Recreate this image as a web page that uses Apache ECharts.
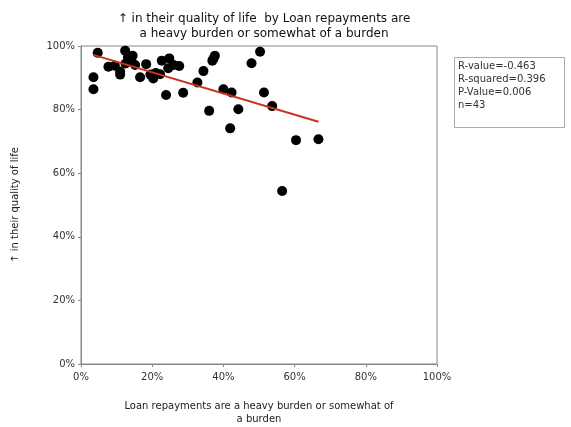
<!DOCTYPE html>
<html><head><meta charset="utf-8">
<script src="https://cdn.jsdelivr.net/npm/echarts@6/dist/echarts.min.js"></script>
<style>html,body{margin:0;padding:0;background:#fff}#c{width:571px;height:427px}</style>
</head><body><div id="c"></div>
<script>
var xVals = [4.7,3.5,3.5,7.7,11,11,12.4,14.5,13.8,18.3,16.6,20.3,22.7,24.8,24.5,27.6,23.9,28.7,22.2,32.7,34.4,36.9,37.6,36,40,42.3,44.2,41.9,47.9,50.3,51.4,53.7,60.4,66.7,56.5,12.5,15.2,19.5,21.0,26.0,37.2,13.2,9.5];
var yVals = [97.9,90.2,86.4,93.5,92,91,98.5,96.9,95.4,94.3,90.2,89.8,95.4,96.1,93,93.7,84.6,85.3,91.1,88.5,92.1,95.4,96.9,79.6,86.4,85.4,80.1,74.1,94.6,98.2,85.4,81.1,70.4,70.7,54.4,94.5,94.0,91.0,91.5,94.0,96.0,96.5,93.8];
var trendX = [3.5, 66.7];
var trendY = [97.2, 76.2];
var xTicks = [0,20,40,60,80,100];
var yTicks = [0,20,40,60,80,100];
var statsLines = ["R-value=-0.463","R-squared=0.396","P-Value=0.006","n=43"];
var titleText = "\u2191 in their quality of life  by Loan repayments are\na heavy burden or somewhat of a burden";
var xName = "Loan repayments are a heavy burden or somewhat of\na burden";
var yName = "\u2191 in their quality of life";

var pts = xVals.map(function(x,i){return [x,yVals[i]];});
var chart = echarts.init(document.getElementById('c'));
var font = 'DejaVu Sans';
chart.setOption({
  animation:false,
  title:{text:titleText,left:259,top:6,textAlign:'center',textStyle:{fontFamily:font,fontSize:12,fontWeight:'normal',color:'#111',lineHeight:15}},
  grid:{left:81,right:134,top:46,bottom:63,show:true,borderColor:'#888',borderWidth:1,outerBoundsMode:'none',containLabel:false},
  xAxis:{type:'value',min:0,max:100,interval:20,
    name:xName,nameLocation:'middle',nameGap:36,nameTextStyle:{fontFamily:font,fontSize:10,color:'#222',lineHeight:13},
    axisLine:{show:true,lineStyle:{color:'#888'}},axisTick:{show:true,length:3,lineStyle:{color:'#888'}},
    splitLine:{show:false},
    axisLabel:{fontFamily:font,fontSize:10,color:'#333',margin:8,formatter:function(v){return v+'%';}}},
  yAxis:{type:'value',min:0,max:100,interval:20,
    name:yName,nameLocation:'middle',nameGap:61,nameTextStyle:{fontFamily:font,fontSize:10,color:'#222'},
    axisLine:{show:true,lineStyle:{color:'#888'}},axisTick:{show:true,length:3,lineStyle:{color:'#888'}},
    splitLine:{show:false},
    axisLabel:{fontFamily:font,fontSize:10,color:'#333',margin:6,formatter:function(v){return v+'%';}}},
  series:[
    {type:'scatter',data:pts,symbolSize:10,itemStyle:{color:'#000',opacity:1},z:2},
    {type:'line',data:trendX.map(function(x,i){return [x,trendY[i]];}),symbol:'none',lineStyle:{color:'#c8321e',width:2},z:3}
  ],
  graphic:[
    {type:'rect',left:454,top:57,shape:{width:110,height:70},style:{fill:'#fff',stroke:'#aaa',lineWidth:1}},
    {type:'text',left:458,top:60,style:{text:statsLines.join('\n'),fontFamily:font,fontSize:10,lineHeight:13,fill:'#333'}}
  ]
});
</script></body></html>
